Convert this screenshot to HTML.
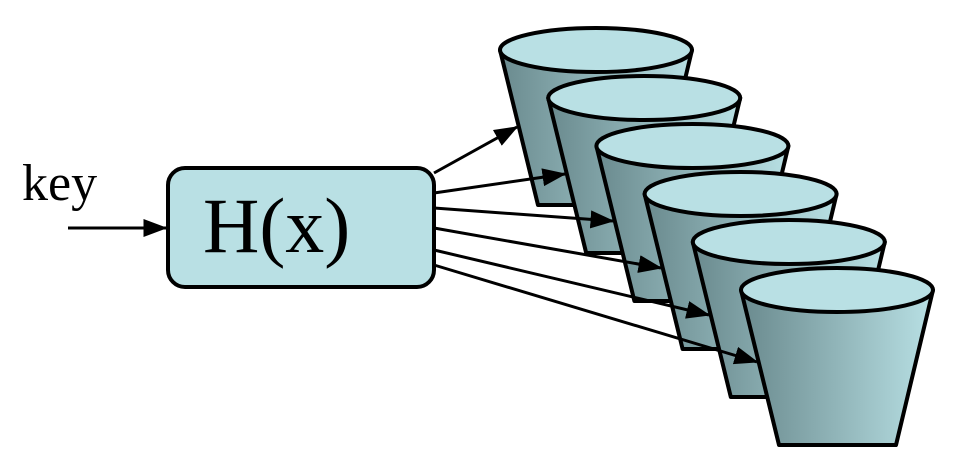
<!DOCTYPE html>
<html><head><meta charset="utf-8"><style>
html,body{margin:0;padding:0;background:#fff;}
svg{display:block;}
</style></head><body>
<svg width="965" height="476" viewBox="0 0 965 476">
<defs>
<linearGradient id="side" x1="0" y1="0" x2="1" y2="0">
<stop offset="0" stop-color="#6a8a8e"/>
<stop offset="1" stop-color="#b8e0e4"/>
</linearGradient>
<marker id="ah" markerWidth="8" markerHeight="6" refX="7.5" refY="3" orient="auto" markerUnits="strokeWidth">
<path d="M0,0 L8,3 L0,6 Z" fill="#000"/>
</marker>
</defs>
<text x="22" y="200" font-family="Liberation Serif, serif" font-size="52" fill="#000">key</text>
<line x1="68" y1="228" x2="166" y2="228" stroke="#000" stroke-width="3" marker-end="url(#ah)"/>
<rect x="168" y="168" width="266" height="119" rx="17" ry="17" fill="#b9e0e4" stroke="#000" stroke-width="4"/>
<text x="203" y="252" font-family="Liberation Serif, serif" font-size="78" fill="#000">H(x)</text>
<g id="buckets"></g>
</svg>
<script>
const bucketIndex=[0,1,2,3,4,5];
const arrowStartY=[173,193,208,228,250,265];
const g=document.getElementById('buckets');
const NS='http://www.w3.org/2000/svg';
bucketIndex.forEach((i)=>{
  const dx=48.2*i, dy=48*i;
  const cx=596+dx, cy=50+dy, rx=96, ry=22;
  const b=document.createElementNS(NS,'g');
  
  
  const side=document.createElementNS(NS,'path');
  side.setAttribute('d',`M${cx-rx},${cy} L${cx-rx+38},${cy+155} L${cx+rx-37},${cy+155} L${cx+rx},${cy} Z`);
  side.setAttribute('fill','url(#side)');
  side.setAttribute('stroke','#000');
  side.setAttribute('stroke-width','4');
  side.setAttribute('stroke-linejoin','round');
  
  
  b.appendChild(side);
  const top=document.createElementNS(NS,'ellipse');
  top.setAttribute('cx',cx);top.setAttribute('cy',cy);
  top.setAttribute('rx',rx);top.setAttribute('ry',ry);
  top.setAttribute('fill','#b9e0e4');
  top.setAttribute('stroke','#000');
  top.setAttribute('stroke-width','4');
  
  
  b.appendChild(top);
  g.appendChild(b);
  const a=document.createElementNS(NS,'line');
  a.setAttribute('x1',434);a.setAttribute('y1',arrowStartY[i]);
  a.setAttribute('x2',517+48*i);a.setAttribute('y2',127+47*i);
  a.setAttribute('stroke','#000');
  a.setAttribute('stroke-width','3');
  a.setAttribute('marker-end','url(#ah)');
  
  
  g.appendChild(a);
});
</script>
</body></html>
